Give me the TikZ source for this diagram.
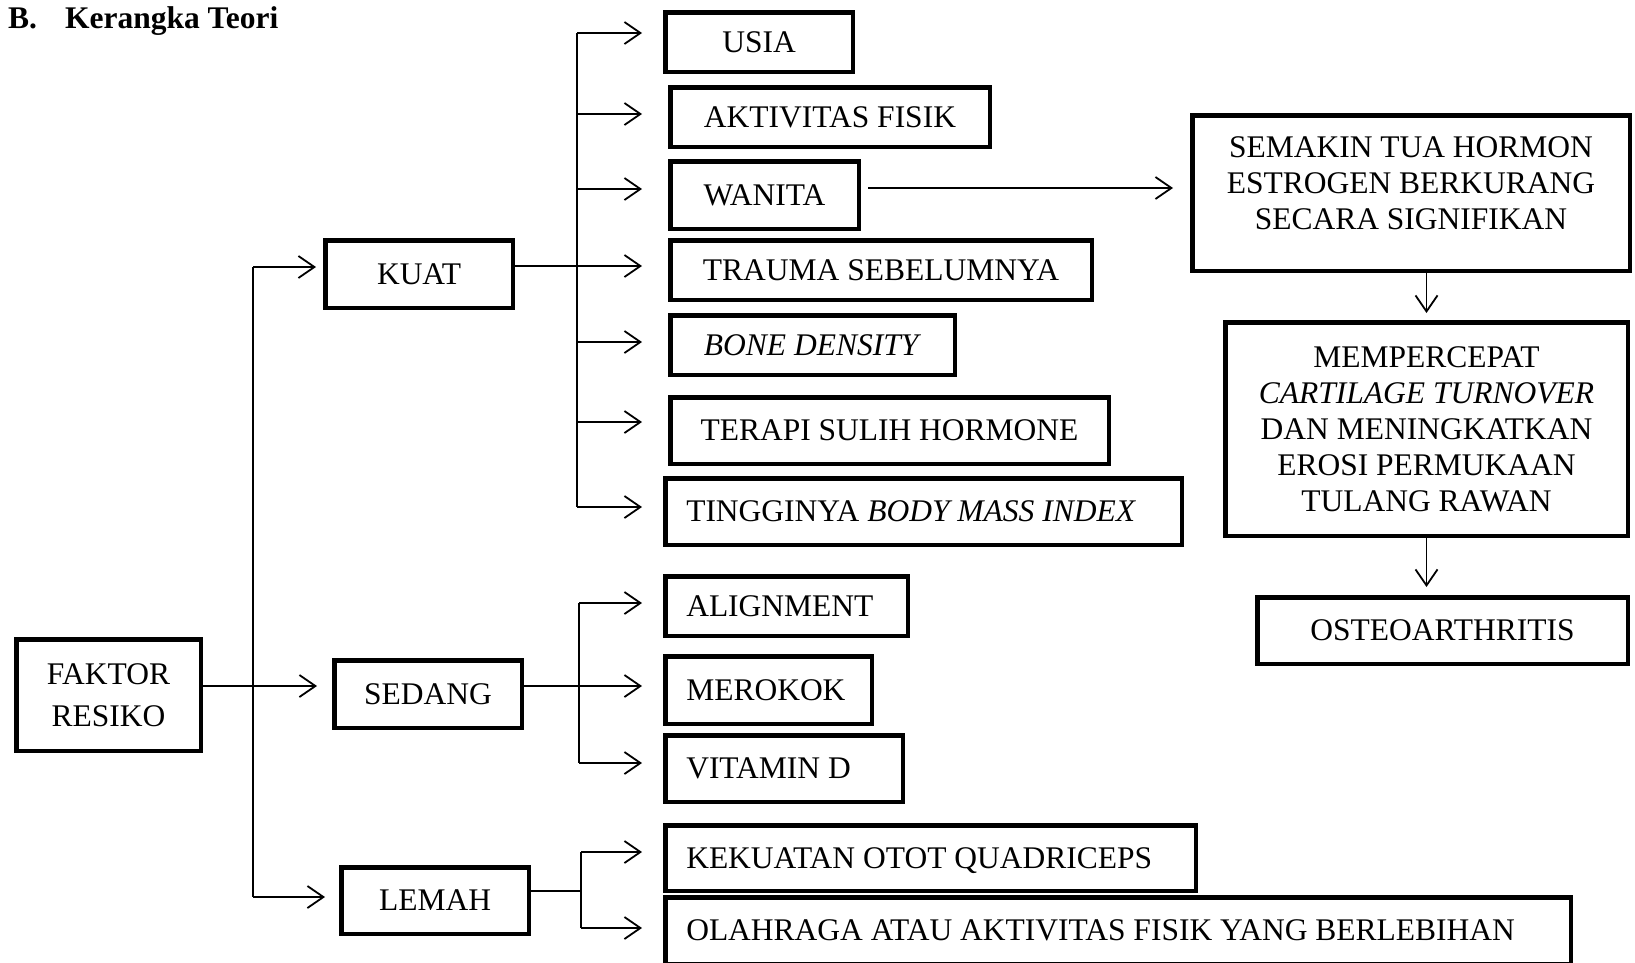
\documentclass[tikz,border=0pt]{standalone}
\usepackage{fontspec}
\setmainfont{Liberation Serif}
\usetikzlibrary{arrows.meta}

\begin{document}
\begin{tikzpicture}[x=1pt, y=-1pt,
	font=\fontsize{31.5pt}{36pt}\selectfont,
	kotak/.style={draw, line width=4.5pt, inner sep=0pt, text depth=0pt},
	kiri/.style={align=flush left, inner xsep=21pt},
	garis/.style={line width=1.8pt},
	panah/.style={garis, -{Straight Barb[length=16pt,width=22pt,line width=1.8pt]}, shorten >=21pt},
	]
	\useasboundingbox (0,0) rectangle (1635,962);
	\node[anchor=base west, inner sep=0pt, font=\fontsize{31.5pt}{36pt}\selectfont\bfseries] (judul) at (8,28) {B.\hspace{28pt}Kerangka Teori};

	\node[kotak, align=center, minimum width=184.5pt, minimum height=111.5pt] (faktor) at (108.5,695) {FAKTOR\\[6pt]RESIKO};
	\node[kotak, minimum width=187.5pt, minimum height=67.5pt] (kuat) at (419,274) {KUAT};
	\node[kotak, minimum width=187.5pt, minimum height=67.5pt] (sedang) at (428,694) {SEDANG};
	\node[kotak, minimum width=187.5pt, minimum height=66.5pt] (lemah) at (435,900.5) {LEMAH};

	\node[kotak, minimum width=187.5pt, minimum height=59.5pt] (usia) at (759,42) {USIA};
	\node[kotak, minimum width=319.5pt, minimum height=59.5pt] (aktivitas) at (830,117) {AKTIVITAS FISIK};
	\node[kotak, minimum width=188.5pt, minimum height=67.5pt] (wanita) at (764.5,195) {WANITA};
	\node[kotak, minimum width=421.5pt, minimum height=59.5pt] (trauma) at (881,270) {TRAUMA SEBELUMNYA};
	\node[kotak, minimum width=284.5pt, minimum height=59.5pt] (bone) at (812.5,345) {\textit{BONE DENSITY}};
	\node[kotak, minimum width=438.5pt, minimum height=66.5pt] (terapi) at (889.5,430.5) {TERAPI SULIH HORMONE};
	\node[kotak, kiri, text width=474.5pt, minimum height=66.5pt] (tinggi) at (923.5,511.5) {TINGGINYA \textit{BODY MASS INDEX}};

	\node[kotak, kiri, text width=200.5pt, minimum height=59.5pt] (alignment) at (786.5,606) {ALIGNMENT};
	\node[kotak, kiri, text width=164.5pt, minimum height=67.5pt] (merokok) at (768.5,690) {MEROKOK};
	\node[kotak, kiri, text width=195.5pt, minimum height=66.5pt] (vitamin) at (784,768.5) {VITAMIN D};

	\node[kotak, kiri, text width=488.5pt, minimum height=65.5pt] (kekuatan) at (930.5,858) {KEKUATAN OTOT QUADRICEPS};
	\node[kotak, kiri, text width=863.5pt, minimum height=66.5pt] (olahraga) at (1118,930.5) {OLAHRAGA ATAU AKTIVITAS FISIK YANG BERLEBIHAN};

	\node[kotak, minimum width=437.5pt, minimum height=155.5pt] (semakin) at (1411,193) {};
	\node[align=center, inner sep=0pt] (semakinteks) at ([yshift=10pt]semakin.center) {SEMAKIN TUA HORMON\\ESTROGEN BERKURANG\\SECARA SIGNIFIKAN};
	\node[kotak, align=center, minimum width=402.5pt, minimum height=213.5pt] (mempercepat) at (1426.5,429) {MEMPERCEPAT\\\textit{CARTILAGE TURNOVER}\\DAN MENINGKATKAN\\EROSI PERMUKAAN\\TULANG RAWAN};
	\node[kotak, minimum width=370.5pt, minimum height=66.5pt] (osteo) at (1442.5,630.5) {OSTEOARTHRITIS};

	\coordinate (ta) at (253,267);
	\coordinate (tb) at (253,686);
	\coordinate (tc) at (253,897);
	\draw[garis] (ta) -- (tc);
	\draw[garis] (faktor.east |- tb) -- (tb);
	\draw[panah, shorten >=7pt] (ta) -- (kuat.west |- ta);
	\draw[panah, shorten >=15pt] (tb) -- (sedang.west |- tb);
	\draw[panah, shorten >=14pt] (tc) -- (lemah.west |- tc);

	\coordinate (ka) at (577,33);
	\coordinate (kb) at (577,114);
	\coordinate (kc) at (577,189);
	\coordinate (kd) at (577,266);
	\coordinate (ke) at (577,342);
	\coordinate (kf) at (577,422);
	\coordinate (kg) at (577,507);
	\draw[garis] (ka) -- (kg);
	\draw[garis] (kuat.east |- kd) -- (kd);
	\draw[panah] (ka) -- (usia.west |- ka);
	\draw[panah, shorten >=26pt] (kb) -- (aktivitas.west |- kb);
	\draw[panah, shorten >=26pt] (kc) -- (wanita.west |- kc);
	\draw[panah, shorten >=26pt] (kd) -- (trauma.west |- kd);
	\draw[panah, shorten >=26pt] (ke) -- (bone.west |- ke);
	\draw[panah, shorten >=26pt] (kf) -- (terapi.west |- kf);
	\draw[panah] (kg) -- (tinggi.west |- kg);

	\coordinate (sa) at (579,603);
	\coordinate (sb) at (579,686);
	\coordinate (sc) at (579,763);
	\draw[garis] (sa) -- (sc);
	\draw[garis] (sedang.east |- sb) -- (sb);
	\draw[panah] (sa) -- (alignment.west |- sa);
	\draw[panah] (sb) -- (merokok.west |- sb);
	\draw[panah] (sc) -- (vitamin.west |- sc);

	\coordinate (la) at (581,852);
	\coordinate (lb) at (581,891);
	\coordinate (lc) at (581,928);
	\draw[garis] (la) -- (lc);
	\draw[garis] (lemah.east |- lb) -- (lb);
	\draw[panah] (la) -- (kekuatan.west |- la);
	\draw[panah] (lc) -- (olahraga.west |- lc);

	\draw[panah, shorten <=7pt, shorten >=17pt] ([yshift=7pt]wanita.east) -- ([yshift=7pt]wanita.east -| semakin.west);
	\draw[panah, shorten >=7pt] (semakin.south -| mempercepat.north) -- (mempercepat.north);
	\draw[panah, shorten >=8pt] (mempercepat.south) -- (osteo.north -| mempercepat.south);
\end{tikzpicture}
\end{document}
